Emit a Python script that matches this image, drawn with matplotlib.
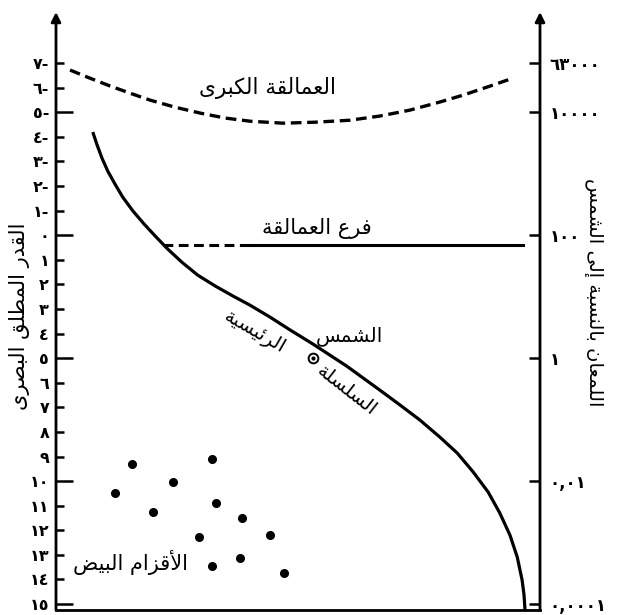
import numpy as np
import matplotlib
matplotlib.use("Agg")
import matplotlib.pyplot as plt

plt.rcParams['font.family'] = ['DejaVu Sans']

# --- data (x: arbitrary 0-100 scale, y: absolute magnitude) ---
ms_x = [7.6, 8.5, 9.5, 10.7, 12.2, 13.8, 15.9, 18.2, 20.7, 23.1, 26.0, 29.3,
        32.9, 36.6, 40.1, 44.2, 48.4, 53.1, 60.1, 66.9, 71.1, 75.2, 79.3, 82.9,
        86.2, 89.3, 91.7, 93.8, 95.3, 96.3, 96.7, 96.9]
ms_mag = [-4.19, -3.66, -3.13, -2.60, -2.07, -1.54, -0.98, -0.45, 0.08, 0.57, 1.10, 1.63,
          2.07, 2.48, 2.85, 3.33, 3.86, 4.43, 5.33, 6.30, 6.91, 7.52, 8.21, 8.86,
          9.63, 10.45, 11.30, 12.20, 13.09, 14.02, 14.63, 15.24]

sg_x = [2.9, 7.0, 11.2, 15.3, 19.4, 24.6, 29.8, 34.9, 40.1, 46.9, 53.5, 60.7,
        66.9, 73.1, 79.3, 84.1, 89.7, 94.4]
sg_mag = [-6.71, -6.38, -6.06, -5.77, -5.49, -5.20, -4.96, -4.76, -4.63, -4.55, -4.59, -4.67,
          -4.84, -5.08, -5.41, -5.69, -6.06, -6.38]

giant_mag = 0.41
giant_dash_x = [22.1, 40.1]
giant_solid_x = [40.1, 96.5]

wd_x = [15.8, 32.2, 12.2, 24.1, 20.1, 33.1, 38.4, 29.6, 44.2, 32.3, 38.1, 47.2]
wd_mag = [9.32, 9.11, 10.50, 10.03, 11.27, 10.91, 11.49, 12.28, 12.20, 13.46, 13.12, 13.75]

sun_x, sun_mag = 53.1, 5.0

mag_ticks = list(range(-7, 16))
lum_ticks = [63000, 10000, 100, 1, 0.01, 0.0001]
lum_labels = ["٦٣٠٠٠", "١٠٠٠٠", "١٠٠", "١", "٠,٠١", "٠,٠٠٠١"]

# --- tiny arabic shaper (matplotlib does no shaping) ---
FORMS = {
    'ا': (0xFE8D, 0xFE8E, None, None), 'أ': (0xFE83, 0xFE84, None, None),
    'إ': (0xFE87, 0xFE88, None, None), 'ب': (0xFE8F, 0xFE90, 0xFE91, 0xFE92),
    'ة': (0xFE93, 0xFE94, None, None), 'ت': (0xFE95, 0xFE96, 0xFE97, 0xFE98),
    'د': (0xFEA9, 0xFEAA, None, None), 'ر': (0xFEAD, 0xFEAE, None, None),
    'ز': (0xFEAF, 0xFEB0, None, None), 'س': (0xFEB1, 0xFEB2, 0xFEB3, 0xFEB4),
    'ش': (0xFEB5, 0xFEB6, 0xFEB7, 0xFEB8), 'ص': (0xFEB9, 0xFEBA, 0xFEBB, 0xFEBC),
    'ض': (0xFEBD, 0xFEBE, 0xFEBF, 0xFEC0), 'ط': (0xFEC1, 0xFEC2, 0xFEC3, 0xFEC4),
    'ع': (0xFEC9, 0xFECA, 0xFECB, 0xFECC), 'ف': (0xFED1, 0xFED2, 0xFED3, 0xFED4),
    'ق': (0xFED5, 0xFED6, 0xFED7, 0xFED8), 'ك': (0xFED9, 0xFEDA, 0xFEDB, 0xFEDC),
    'ل': (0xFEDD, 0xFEDE, 0xFEDF, 0xFEE0), 'م': (0xFEE1, 0xFEE2, 0xFEE3, 0xFEE4),
    'ن': (0xFEE5, 0xFEE6, 0xFEE7, 0xFEE8), 'ه': (0xFEE9, 0xFEEA, 0xFEEB, 0xFEEC),
    'ى': (0xFEEF, 0xFEF0, None, None), 'ي': (0xFEF1, 0xFEF2, 0xFEF3, 0xFEF4),
    'ئ': (0xFE89, 0xFE8A, 0xFE8B, 0xFE8C),
}
LAMALEF = {'ا': (0xFEFB, 0xFEFC), 'أ': (0xFEF7, 0xFEF8), 'إ': (0xFEF9, 0xFEFA)}


def shape(text):
    out = []
    chars = list(text)
    i = 0
    prev_joins = False
    while i < len(chars):
        c = chars[i]
        if c not in FORMS:
            out.append(c)
            prev_joins = False
            i += 1
            continue
        if c == 'ل' and i + 1 < len(chars) and chars[i + 1] in LAMALEF:
            iso, fin = LAMALEF[chars[i + 1]]
            out.append(chr(fin if prev_joins else iso))
            prev_joins = False
            i += 2
            continue
        f = FORMS[c]
        dual = f[2] is not None
        nxt = chars[i + 1] if i + 1 < len(chars) else None
        next_joins = dual and nxt in FORMS
        if prev_joins and next_joins:
            g = f[3]
        elif prev_joins:
            g = f[1]
        elif next_joins:
            g = f[2]
        else:
            g = f[0]
        out.append(chr(g))
        prev_joins = dual
        i += 1
    return ''.join(reversed(out))


def ar_digits(n):
    d = "٠١٢٣٤٥٦٧٨٩"
    s = ''.join(d[int(ch)] for ch in str(abs(n)))
    return s + "-" if n < 0 else s


fig = plt.figure(figsize=(6.27, 6.15), dpi=100)
ax = fig.add_axes([56 / 627, 5 / 615, 484 / 627, 598 / 615])
ax.set_xlim(0, 100)
ax.set_ylim(15.24, -9.07)

ax.plot(ms_x, ms_mag, color='black', lw=2.3, solid_capstyle='butt')
ax.plot(sg_x, sg_mag, color='black', lw=2.4, dashes=(3.2, 1.7))
ax.plot(giant_dash_x, [giant_mag] * 2, color='black', lw=2.2, dashes=(3.2, 1.8))
ax.plot(giant_solid_x, [giant_mag] * 2, color='black', lw=2.2)
ax.plot(wd_x, wd_mag, 'o', color='black', ms=5.5, ls='none')
ax.plot([sun_x], [sun_mag], 'o', ms=7, mfc='white', mec='black', mew=1.4)
ax.plot([sun_x], [sun_mag], 'o', ms=2, color='black')

ax.text(43.8, -5.98, shape("العمالقة الكبرى"), fontsize=15.5, ha='center', va='center')
ax.text(53.9, -0.28, shape("فرع العمالقة"), fontsize=15, ha='center', va='center')
ax.text(60.7, 4.1, shape("الشمس"), fontsize=14.5, ha='center', va='center')
ax.text(41.1, 3.94, shape("الرئيسية"), fontsize=14, ha='center', va='center',
        rotation=-30, rotation_mode='anchor')
ax.text(60.1, 6.3, shape("السلسلة"), fontsize=14, ha='center', va='center',
        rotation=-38, rotation_mode='anchor')
ax.text(15.3, 13.29, shape("الأقزام البيض"), fontsize=15, ha='center', va='center')

# axes: left/right spines as arrows, bottom line
for s in ['top', 'left', 'right']:
    ax.spines[s].set_visible(False)
ax.spines['bottom'].set_linewidth(2)
ax.set_xticks([])
for xa in (0, 1):
    ax.annotate('', xy=(xa, 1.0), xytext=(xa, 0), xycoords='axes fraction',
                arrowprops=dict(arrowstyle='-|>', lw=2, color='black',
                                mutation_scale=14, shrinkA=0, shrinkB=0))

ax.set_yticks([m for m in mag_ticks if m % 5 == 0])
ax.set_yticks([m for m in mag_ticks if m % 5 != 0], minor=True)
ax.set_yticklabels([ar_digits(m) for m in mag_ticks if m % 5 == 0])
ax.set_yticklabels([ar_digits(m) for m in mag_ticks if m % 5 != 0], minor=True)
ax.tick_params(axis='y', which='major', direction='in', length=12, width=1.8,
               labelsize=11.5, pad=5)
ax.tick_params(axis='y', which='minor', direction='in', length=6, width=1.8,
               labelsize=11.5, pad=5)
for t in ax.get_yticklabels(which='both'):
    t.set_fontweight('bold')

ax2 = ax.twinx()
ax2.set_ylim(ax.get_ylim())
for s in ['top', 'left', 'right', 'bottom']:
    ax2.spines[s].set_visible(False)
ax2.set_yticks([-2.5 * np.log10(v / 100) for v in lum_ticks])
ax2.set_yticklabels(lum_labels)
ax2.tick_params(axis='y', direction='in', length=8, width=1.8, labelsize=12, pad=7)
for t in ax2.get_yticklabels():
    t.set_fontweight('bold')

fig.text(20 / 627, 1 - 316 / 615, shape("القدر المطلق البصرى"), rotation=90,
         fontsize=15, ha='center', va='center')
fig.text(594 / 627, 1 - 292 / 615, shape("اللمعان بالنسبة إلى الشمس"), rotation=-90,
         fontsize=14, ha='center', va='center')

fig.savefig("out.png", dpi=100, facecolor='white')
